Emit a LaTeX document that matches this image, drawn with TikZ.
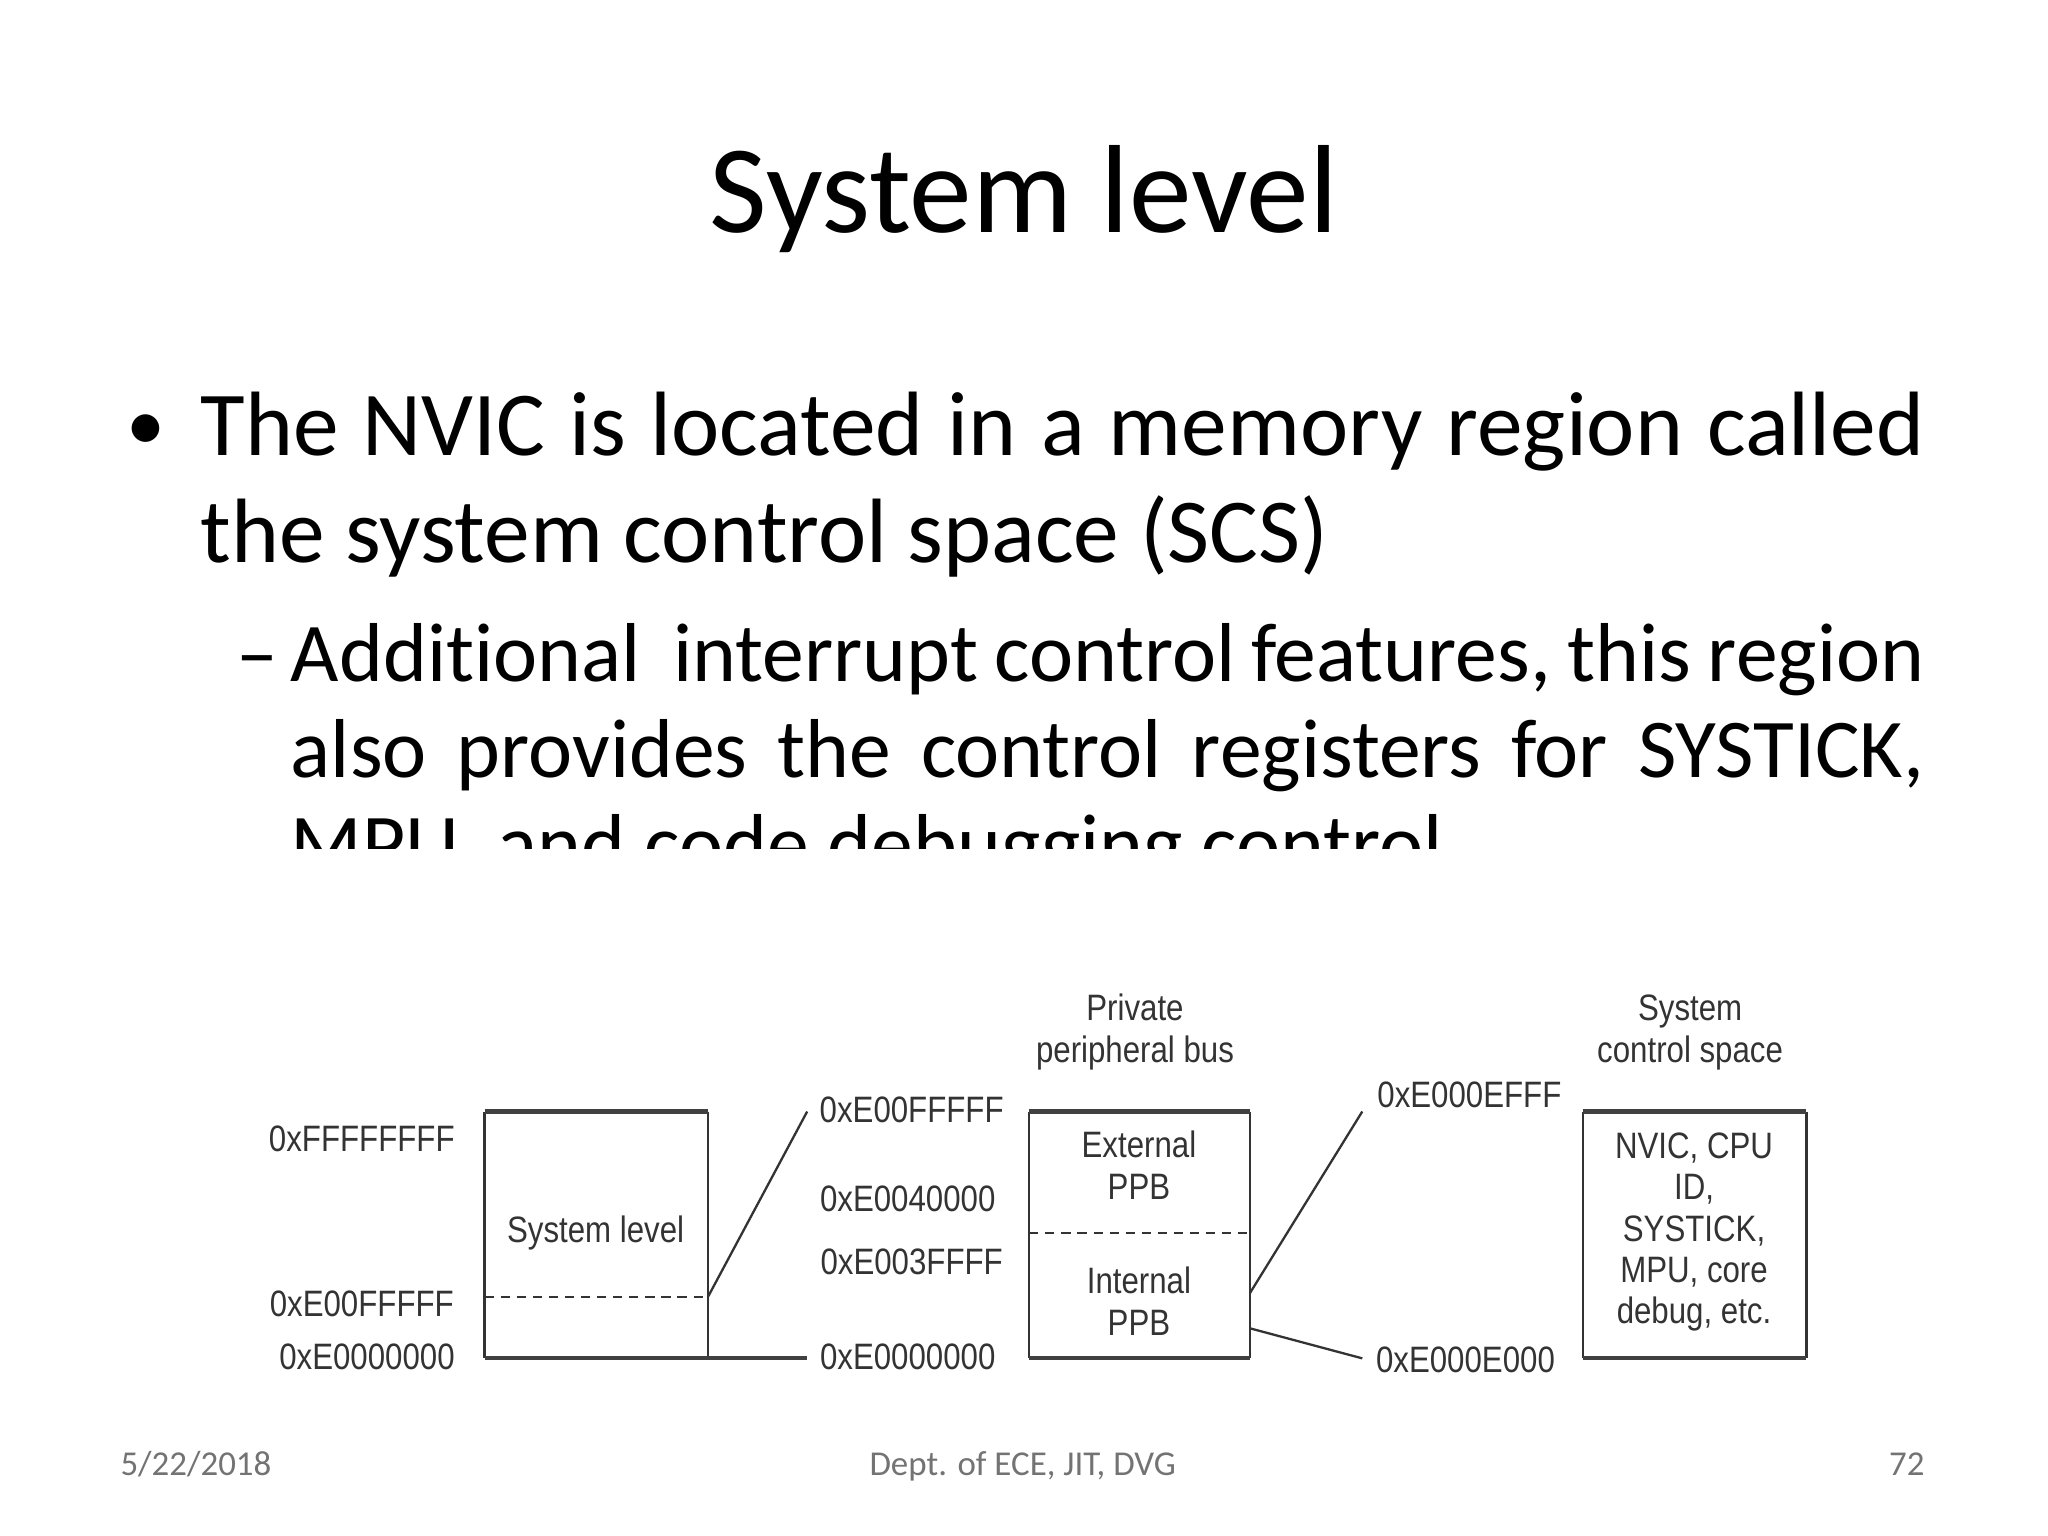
\documentclass[tikz,border=0pt]{standalone}
\usepackage{fontspec}
\setmainfont{Carlito}[RawFeature={-liga;-dlig;-clig;-calt}]
\newfontfamily\diag{Liberation Sans}
\newcommand\nr[1]{\scalebox{0.85}[1]{#1}}
\newcommand\nrs[1]{\scalebox{0.85}[1]{\begin{tabular}{@{}c@{}}#1\end{tabular}}}
\begin{document}
\begin{tikzpicture}[x={(0.01cm,0)},y={(0,-0.01cm)},
  lbl/.style={font=\diag\fontsize{8}{9}\selectfont, text=black!80, inner sep=0pt},
  hdr/.style={lbl},
  thick/.style={line width=0.9pt, draw=black!75},
  thin/.style={line width=0.5pt, draw=black!80},
  dsh/.style={line width=0.5pt, draw=black!80, dash pattern=on 2pt off 1.5pt},
  foot/.style={font=\fontsize{7.6}{9}\selectfont, text=black!55, anchor=base}]
\useasboundingbox (0,0) rectangle (1568,1176);
\node[font=\fontsize{27.3}{30}\selectfont, anchor=base] (title) at (784,178) {System level};
\node[font=\fontsize{17}{20}\selectfont, anchor=base] (bul) at (112,345) {•};
\node[font=\fontsize{19.9}{23.3}\selectfont, anchor=base west, text width=13.19cm, align=justify, inner sep=0pt] (b1) at (153,349)
 {The NVIC is located in a memory region called the system control space (SCS)};
\begin{scope}
\clip (0,440) rectangle (1568,650);
\node[font=\fontsize{18.2}{20.8}\selectfont, anchor=base] (dash) at (197,522) {–};
\node[font=\fontsize{18.2}{20.8}\selectfont, anchor=base west, text width=12.5cm, align=justify, inner sep=0pt] (s1) at (222,522)
 {\hyphenpenalty=10000 \exhyphenpenalty=10000 Additional\ \ interrupt control features, this region also provides the control registers for SYSTICK, MPU, and code debugging control};
\end{scope}
% box 1
\coordinate (a1) at (371,851); \coordinate (a2) at (542,851);
\coordinate (a3) at (371,1040); \coordinate (a4) at (542,1040);
\coordinate (ad1) at (371,993); \coordinate (ad2) at (542,993);
\coordinate (ae) at (618,1040); \coordinate (at) at (618,851);
\draw[thin] (a1) -- (a3) (a2) -- (a4);
\draw[thick] (a1) -- (a2) (a3) -- (ae);
\draw[dsh] (ad1) -- (ad2);
\draw[thin] (ad2) -- (at);
\node[lbl] (l1) at (277,872) {\nr{0xFFFFFFFF}};
\node[lbl] (l2) at (277,998) {\nr{0xE00FFFFF}};
\node[lbl] (l3) at (281,1039) {\nr{0xE0000000}};
\node[lbl] (sl) at (456,944) {\nr{System level}};
\node[lbl] (m1) at (698,850) {\nr{0xE00FFFFF}};
\node[lbl] (m2) at (695,918) {\nr{0xE0040000}};
\node[lbl] (m3) at (698,966) {\nr{0xE003FFFF}};
\node[lbl] (m4) at (695,1039) {\nr{0xE0000000}};
% box 2
\coordinate (b1a) at (788,851); \coordinate (b2a) at (957,851);
\coordinate (b3a) at (788,1040); \coordinate (b4a) at (957,1040);
\draw[thin] (b1a) -- (b3a) (b2a) -- (b4a);
\draw[thick] (b1a) -- (b2a) (b3a) -- (b4a);
\draw[dsh] (788,944) -- (957,944);
\node[hdr] (ext) at (872,896) {\nrs{External\\PPB}};
\node[hdr] (int) at (872,1000) {\nrs{Internal\\PPB}};
\node[hdr] (ppb) at (869,791) {\nrs{Private\\peripheral bus}};
\coordinate (c1) at (957,990); \coordinate (c2) at (1043,851);
\coordinate (c3) at (957,1017); \coordinate (c4) at (1043,1040);
\draw[thin] (c1) -- (c2) (c3) -- (c4);
\node[lbl] (e1) at (1125,838) {\nr{0xE000EFFF}};
\node[lbl] (e2) at (1122,1041) {\nr{0xE000E000}};
% box 3
\draw[thin] (1212,851) -- (1212,1040) (1383,851) -- (1383,1040);
\draw[thick] (1212,851) -- (1383,851) (1212,1040) -- (1383,1040);
\node[hdr] (scs) at (1297,944) {\nrs{NVIC, CPU\\ID,\\SYSTICK,\\MPU, core\\debug, etc.}};
\node[hdr] (scsh) at (1294,791) {\nrs{System\\control space}};
\node[foot] (f1) at (150,1130) {5/22/2018};
\node[foot] (f2) at (783,1130) {Dept. of ECE, JIT, DVG};
\node[foot] (f3) at (1460,1130) {72};
\end{tikzpicture}
\end{document}
